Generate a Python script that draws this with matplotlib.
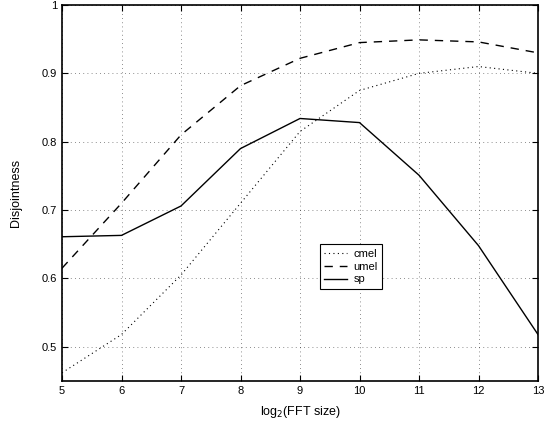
import matplotlib
matplotlib.use('Agg')
import matplotlib.pyplot as plt
from matplotlib.ticker import FuncFormatter

plt.rcParams['font.family'] = ['Liberation Sans', 'DejaVu Sans']

fft_log2 = [5, 6, 7, 8, 9, 10, 11, 12, 13]
cmel = [0.462, 0.518, 0.605, 0.71, 0.815, 0.875, 0.90, 0.91, 0.90]
umel = [0.615, 0.71, 0.81, 0.882, 0.922, 0.945, 0.949, 0.946, 0.93]
sp = [0.661, 0.663, 0.706, 0.79, 0.834, 0.828, 0.751, 0.648, 0.518]

fig = plt.figure(figsize=(5.51, 4.26), dpi=100)
ax = fig.add_axes([62 / 551, 45 / 426, 476 / 551, 376 / 426])

ax.plot(fft_log2, cmel, color='black', linestyle=(0, (1, 3)), linewidth=0.8, label='cmel')
ax.plot(fft_log2, umel, color='black', linestyle=(0, (6, 5)), linewidth=1.0, label='umel')
ax.plot(fft_log2, sp, color='black', linestyle='-', linewidth=1.0, label='sp')

ax.set_xlim(5, 13)
ax.set_ylim(0.45, 1)
ax.set_xticks(fft_log2)
ax.set_yticks([0.5, 0.6, 0.7, 0.8, 0.9, 1.0])
ax.yaxis.set_major_formatter(FuncFormatter(lambda v, p: f'{v:g}'))
ax.grid(True, color='black', linestyle=(0, (1, 4)), linewidth=0.6, alpha=0.6)
ax.tick_params(direction='in', top=True, right=True, labelsize=8, length=4, width=0.8)
for s in ax.spines.values():
    s.set_linewidth(1.2)

ax.set_xlabel(r'log$_2$(FFT size)', fontsize=9, labelpad=6)
ax.set_ylabel('Disjointness', fontsize=9, labelpad=14)

leg = ax.legend(loc='lower left', bbox_to_anchor=(0.542, 0.245), fontsize=8,
                frameon=True, fancybox=False, edgecolor='black', framealpha=1,
                handlelength=2.0, borderpad=0.4, labelspacing=0.25, handletextpad=0.6,
                borderaxespad=0)
leg.get_frame().set_linewidth(0.8)

fig.savefig('out.png', dpi=100)
